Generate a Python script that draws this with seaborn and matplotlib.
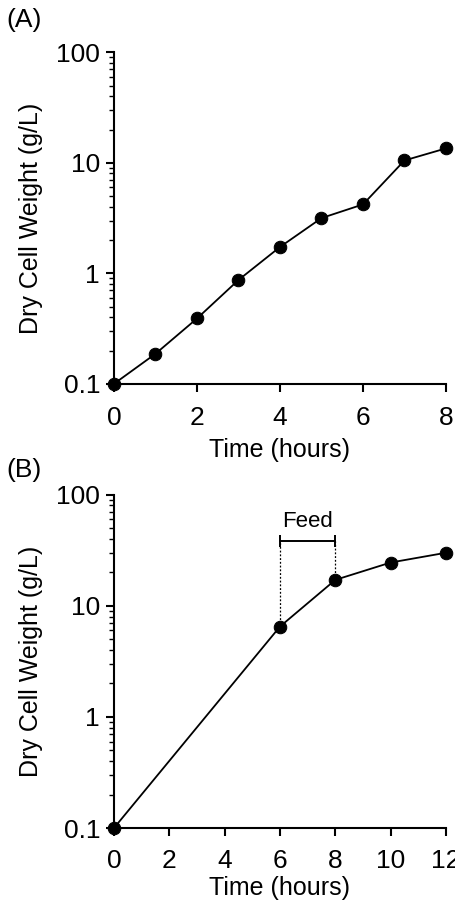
import numpy as np
import pandas as pd
import seaborn as sns
import matplotlib.pyplot as plt
from matplotlib.ticker import LogLocator, FixedLocator, NullFormatter, FuncFormatter

# data
time_a = [0, 1, 2, 3, 4, 5, 6, 7, 8]
dcw_a = [0.1, 0.187, 0.39, 0.87, 1.73, 3.16, 4.2, 10.5, 13.5]

time_b = [0, 6, 8, 10, 12]
dcw_b = [0.1, 6.5, 17.1, 24.5, 30.0]

feed_start, feed_end = 6, 8
feed_level = 38.5

sns.set_theme(style="ticks")
plt.rcParams["font.family"] = ["Liberation Sans", "DejaVu Sans"]
plt.rcParams["text.color"] = "black"
plt.rcParams["axes.labelcolor"] = "black"

fig = plt.figure(figsize=(4.55, 9.01), dpi=100)
ax_a = fig.add_axes([0.2505, 0.574, 0.7297, 0.368])
ax_b = fig.add_axes([0.2505, 0.081, 0.7297, 0.370])


def style_axis(ax, xmax, xticks, xpad, labelpad):
    ax.set_yscale("log")
    ax.set_ylim(0.1, 100)
    ax.set_xlim(0, xmax)
    ax.set_xticks(xticks)
    ax.yaxis.set_major_locator(FixedLocator([0.1, 1, 10, 100]))
    ax.yaxis.set_major_formatter(FuncFormatter(lambda v, p: f"{v:g}"))
    ax.yaxis.set_minor_locator(LogLocator(base=10, subs=np.arange(2, 10)))
    ax.yaxis.set_minor_formatter(NullFormatter())
    for side in ["top", "right"]:
        ax.spines[side].set_visible(False)
    for side in ["left", "bottom"]:
        ax.spines[side].set_linewidth(1.5)
        ax.spines[side].set_color("black")
    ax.tick_params(axis="both", which="major", direction="out", length=6,
                   width=1.5, labelsize=19, colors="black", labelcolor="black")
    ax.tick_params(axis="x", which="major", pad=xpad)
    ax.tick_params(axis="y", which="major", pad=4)
    ax.tick_params(axis="y", which="minor", direction="out", length=3.5,
                   width=1.0, colors="black")
    ax.set_xlabel("Time (hours)", fontsize=18, labelpad=labelpad)
    ax.set_ylabel("Dry Cell Weight (g/L)", fontsize=18)
    ax.yaxis.set_label_coords(-0.215, 0.5)


df_a = pd.DataFrame({"time": time_a, "dcw": dcw_a})
sns.lineplot(data=df_a, x="time", y="dcw", ax=ax_a, color="black",
             linewidth=1.3, marker="o", markersize=9, clip_on=False,
             markeredgecolor="black", zorder=3)
style_axis(ax_a, 8, [0, 2, 4, 6, 8], 10, 6)

df_b = pd.DataFrame({"time": time_b, "dcw": dcw_b})
sns.lineplot(data=df_b, x="time", y="dcw", ax=ax_b, color="black",
             linewidth=1.3, marker="o", markersize=9, clip_on=False,
             markeredgecolor="black", zorder=3)
style_axis(ax_b, 12, [0, 2, 4, 6, 8, 10, 12], 9, 2)

# feed window annotation
y6 = dcw_b[time_b.index(feed_start)]
y8 = dcw_b[time_b.index(feed_end)]
ax_b.plot([feed_start, feed_start], [y6, feed_level], color="black",
          linestyle=(0, (1.5, 1.5)), linewidth=0.9)
ax_b.plot([feed_end, feed_end], [y8, feed_level], color="black",
          linestyle=(0, (1.5, 1.5)), linewidth=0.9)
ax_b.plot([feed_start, feed_end], [feed_level, feed_level], color="black",
          linewidth=1.4, marker="|", markersize=9, markeredgewidth=1.4)
ax_b.text((feed_start + feed_end) / 2, feed_level * 1.2, "Feed",
          ha="center", va="bottom", fontsize=16)

fig.text(0.015, 0.978, "(A)", fontsize=19, va="center", ha="left")
fig.text(0.015, 0.478, "(B)", fontsize=19, va="center", ha="left")

fig.savefig("out.png", dpi=100)
